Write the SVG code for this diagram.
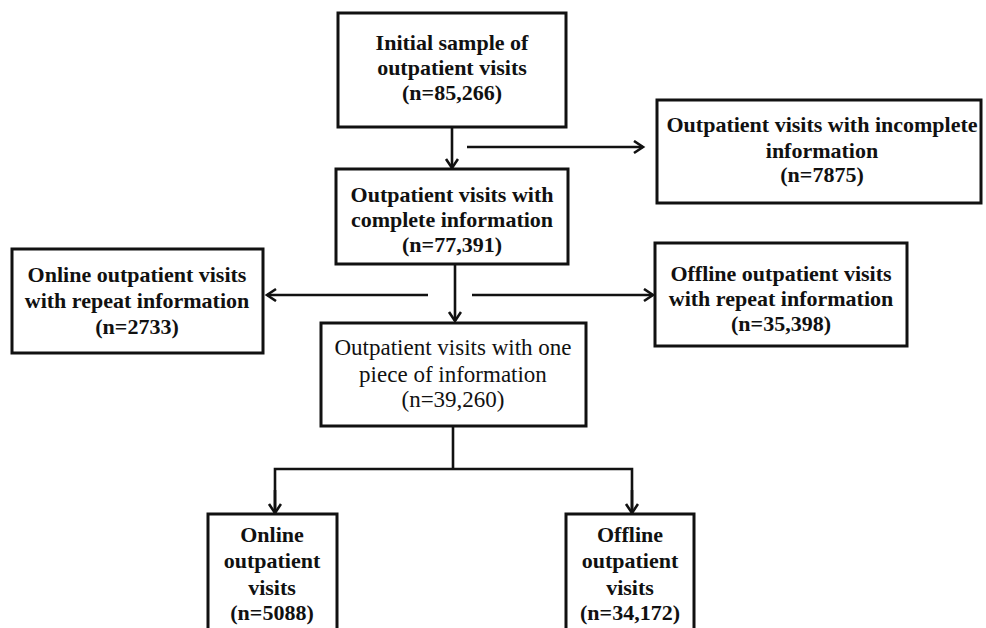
<svg xmlns="http://www.w3.org/2000/svg" width="986" height="628" viewBox="0 0 986 628">
<style>
.box{fill:#fff;stroke:#111;stroke-width:3}
.t{font-family:"Liberation Serif","Times New Roman",serif;font-size:22px;font-weight:bold;fill:#111;text-anchor:middle}
.r{font-weight:normal;font-size:23px}
.c{fill:none;stroke:#111;stroke-width:2.6}
</style>
<defs>
<marker id="ah" markerUnits="userSpaceOnUse" markerWidth="16" markerHeight="16" refX="11" refY="7" orient="auto">
<path d="M2,1 L11,7 L2,13" fill="none" stroke="#111" stroke-width="2.6"/>
</marker>
</defs>
<rect width="986" height="628" fill="#fff"/>
<g id="connectors">
<line class="c" x1="452" y1="127" x2="452" y2="168" marker-end="url(#ah)"/>
<line class="c" x1="467" y1="147" x2="643" y2="147" marker-end="url(#ah)"/>
<line class="c" x1="455" y1="264" x2="455" y2="321" marker-end="url(#ah)"/>
<line class="c" x1="428" y1="295" x2="267" y2="295" marker-end="url(#ah)"/>
<line class="c" x1="472" y1="295" x2="653" y2="295" marker-end="url(#ah)"/>
<polyline class="c" points="453,426 453,469"/>
<polyline class="c" points="275,513 275,469 632,469 632,513"/>
<line class="c" x1="275" y1="490" x2="275" y2="513" marker-end="url(#ah)"/>
<line class="c" x1="632" y1="490" x2="632" y2="513" marker-end="url(#ah)"/>
</g>
<g id="initial">
<rect class="box" x="338" y="13" width="228" height="114"/>
<text class="t" x="452" y="50">Initial sample of</text>
<text class="t" x="452" y="75">outpatient visits</text>
<text class="t" x="452" y="100">(n=85,266)</text>
</g>
<g id="incomplete">
<rect class="box" x="657" y="100" width="324" height="103"/>
<text class="t" x="822" y="132">Outpatient visits with incomplete</text>
<text class="t" x="822" y="158">information</text>
<text class="t" x="822" y="182">(n=7875)</text>
</g>
<g id="complete">
<rect class="box" x="336" y="169" width="232" height="95"/>
<text class="t" x="452" y="202">Outpatient visits with</text>
<text class="t" x="452" y="227">complete information</text>
<text class="t" x="452" y="252">(n=77,391)</text>
</g>
<g id="online-repeat">
<rect class="box" x="12" y="249" width="251" height="104"/>
<text class="t" x="137" y="282">Online outpatient visits</text>
<text class="t" x="137" y="308">with repeat information</text>
<text class="t" x="137" y="334">(n=2733)</text>
</g>
<g id="offline-repeat">
<rect class="box" x="655" y="243" width="252" height="103"/>
<text class="t" x="781" y="281">Offline outpatient visits</text>
<text class="t" x="781" y="306">with repeat information</text>
<text class="t" x="781" y="331">(n=35,398)</text>
</g>
<g id="one-piece">
<rect class="box" x="321" y="323" width="265" height="103"/>
<text class="t r" x="453" y="355">Outpatient visits with one</text>
<text class="t r" x="453" y="382">piece of information</text>
<text class="t r" x="453" y="407">(n=39,260)</text>
</g>
<g id="online">
<rect class="box" x="208" y="514" width="129" height="130"/>
<text class="t" x="272" y="542">Online</text>
<text class="t" x="272" y="568">outpatient</text>
<text class="t" x="272" y="595">visits</text>
<text class="t" x="272" y="620">(n=5088)</text>
</g>
<g id="offline">
<rect class="box" x="566" y="514" width="128" height="130"/>
<text class="t" x="630" y="542">Offline</text>
<text class="t" x="630" y="568">outpatient</text>
<text class="t" x="630" y="595">visits</text>
<text class="t" x="630" y="620">(n=34,172)</text>
</g>
</svg>
